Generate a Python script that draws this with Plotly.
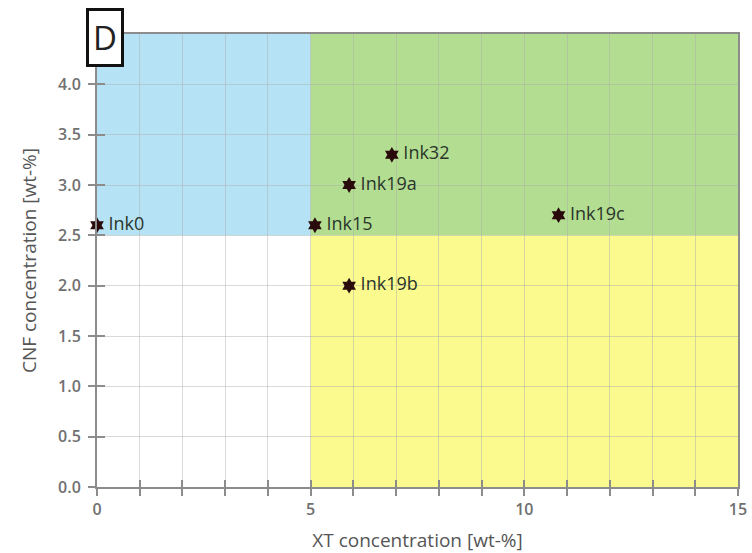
import plotly.graph_objects as go

# Ink formulations: XT and CNF content
ink_names = ["Ink0", "Ink15", "Ink19a", "Ink32", "Ink19b", "Ink19c"]
xt_conc = [0.0, 5.1, 5.9, 6.9, 5.9, 10.8]
cnf_conc = [2.6, 2.6, 3.0, 3.3, 2.0, 2.7]

# Shaded regions of the formulation map: (x0, x1, y0, y1, colour)
region_x0 = [0, 5, 5]
region_x1 = [5, 15, 15]
region_y0 = [2.5, 2.5, 0]
region_y1 = [4.5, 4.5, 2.5]
region_colors = ["#b5e2f4", "#b3de92", "#fafa8e"]

x_ticks = list(range(0, 16))
x_ticktext = [str(v) if v % 5 == 0 else "" for v in x_ticks]
y_ticks = [0.0, 0.5, 1.0, 1.5, 2.0, 2.5, 3.0, 3.5, 4.0]

FONT = "Open Sans"

fig = go.Figure()

fig.add_trace(go.Scatter(
    x=xt_conc, y=cnf_conc, mode="markers+text",
    text=["\u2009" + n for n in ink_names], textposition="middle right",
    textfont=dict(family=FONT, size=18, color="#2a352a"),
    marker=dict(symbol="hexagram", size=12, color="#2a0b0b",
                line=dict(width=0)),
    cliponaxis=False, showlegend=False, hoverinfo="skip",
))

# invisible trace so the overlay axes (inner tick marks) are drawn
fig.add_trace(go.Scatter(x=[0], y=[0], xaxis="x2", yaxis="y2",
                         mode="markers", marker=dict(opacity=0),
                         showlegend=False, hoverinfo="skip"))

for x0, x1, y0, y1, c in zip(region_x0, region_x1, region_y0, region_y1, region_colors):
    fig.add_shape(type="rect", x0=x0, x1=x1, y0=y0, y1=y1,
                  fillcolor=c, line=dict(width=0), layer="below")

axis_common = dict(showline=True, linecolor="#8c8c8c", linewidth=2,
                   mirror=True, ticks="outside", ticklen=7, tickwidth=2,
                   tickcolor="#8c8c8c", gridcolor="rgba(170,170,170,0.45)",
                   gridwidth=1, zeroline=False, automargin=False,
                   tickfont=dict(family=FONT, size=16, color="#707070",
                                 weight=600))

fig.update_layout(
    width=752, height=553,
    margin=dict(l=97, r=14, t=34, b=66),
    paper_bgcolor="white", plot_bgcolor="white",
    xaxis=dict(range=[0, 15], tickvals=x_ticks, ticktext=x_ticktext,
               title=dict(text="XT concentration [wt-%]", standoff=14,
                          font=dict(family=FONT, size=19, color="#555555")),
               **axis_common),
    yaxis=dict(range=[0, 4.5], tickvals=y_ticks, tickformat=".1f",
               ticklabelstandoff=4,
               title=dict(text="CNF concentration [wt-%]", standoff=16,
                          font=dict(family=FONT, size=19, color="#555555")),
               **axis_common),
    xaxis2=dict(range=[0, 15], overlaying="x", tickvals=x_ticks,
                ticks="inside", ticklen=7, tickwidth=2, tickcolor="#8c8c8c",
                showticklabels=False, showgrid=False, zeroline=False,
                side="bottom"),
    yaxis2=dict(range=[0, 4.5], overlaying="y", tickvals=y_ticks,
                ticks="inside", ticklen=8, tickwidth=2, tickcolor="#8c8c8c",
                showticklabels=False, showgrid=False, zeroline=False,
                side="left"),
)

# panel letter
fig.add_annotation(
    text="D", xref="paper", yref="paper", x=0.013, y=0.993,
    xanchor="center", yanchor="middle", showarrow=False,
    font=dict(family=FONT, size=33, color="#222222"),
    bgcolor="white", bordercolor="#111111", borderwidth=3, borderpad=4,
)

fig.write_html("out.html")
